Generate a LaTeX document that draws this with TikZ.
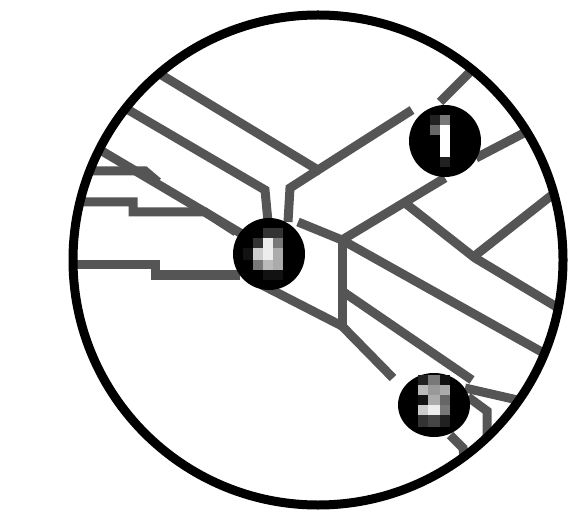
\documentclass[tikz,border=0pt]{standalone}
\definecolor{raygray}{RGB}{85,85,85}
\begin{document}
\begin{tikzpicture}[x=1pt,y=-1pt,
  ray/.style={draw=raygray, line width=9pt, line join=miter, line cap=butt},
  rim/.style={draw=black, line width=9pt},
  blob/.style={fill=black}]
\useasboundingbox (0,0) rectangle (588,518);
\fill[white] (0,0) rectangle (588,518);
\coordinate (O) at (318,260);
\coordinate (V1) at (318,170);
\coordinate (V2) at (342,240);
\coordinate (V3) at (342,326);
\coordinate (B1) at (445,141);
\coordinate (B2) at (269,254);
\coordinate (B3) at (434,405);
\begin{scope}
\clip (O) circle (245pt);
% upper-left rays
\draw[ray] (150,68) -- (V1) -- (412,110);
\draw[ray] (V1) -- (290,188) -- (288,222);
\draw[ray] (108,98) -- (265,190) -- (268,222);
\draw[ray] (90,144) -- (242,234);
\draw[ray] (80,171) -- (145,171) -- (158,182);
\draw[ray] (70,202) -- (133,202) -- (133,212) -- (205,212) -- (236,232);
\draw[ray] (62,265) -- (155,265) -- (155,275) -- (240,275);
% around blob 1
\draw[ray] (440,102) -- (482,60);
\draw[ray] (476,158) -- (545,122);
\draw[ray] (445,178) -- (V2);
\draw[ray] (298,222) -- (V2);
\draw[ray] (342,236) -- (V3);
\draw[ray] (V2) -- (565,365);
\draw[ray] (342,291) -- (472,380);
\draw[ray] (405,203) -- (475,258) -- (565,312);
\draw[ray] (472,258) -- (566,184);
% lower part
\draw[ray] (262,285) -- (V3);
\draw[ray] (V3) -- (393,378);
\draw[ray] (465,388) -- (535,404);
\draw[ray] (468,397) -- (487,411) -- (487,433) -- (505,433);
\draw[ray] (450,435) -- (463,448) -- (466,480);
\end{scope}
% blobs
\fill[blob] (B1) ellipse [x radius=36pt, y radius=36pt];
\fill[blob] (B2) ellipse [x radius=36pt, y radius=36pt];
\fill[blob] (B3) ellipse [x radius=36pt, y radius=32pt];
% blob 1 interior
\fill[black!87] (430,115) rectangle (440,125);
\fill[black!53] (440,115) rectangle (450,125);
\fill[black!60] (430,125) rectangle (440,135);
\fill[white] (440,125) rectangle (450,157);
\fill[black!87] (440,157) rectangle (450,167);
% blob 2 interior
\fill[black!80] (263,228) rectangle (283,238);
\fill[black!80] (253,238) rectangle (263,248);
\fill[black!7] (263,238) rectangle (273,260);
\fill[black!53] (273,238) rectangle (283,248);
\fill[black!93] (243,248) rectangle (253,260);
\fill[black!20] (253,248) rectangle (263,260);
\fill[black!33] (273,248) rectangle (283,270);
\fill[black!53] (253,260) rectangle (263,270);
\fill[black!27] (263,260) rectangle (273,270);
\fill[black!93] (263,270) rectangle (283,280);
% blob 3 interior
\fill[black!87] (418,375) rectangle (428,385);
\fill[black!53] (428,375) rectangle (440,385);
\fill[black!93] (440,375) rectangle (450,385);
\fill[black!27] (418,385) rectangle (428,395);
\fill[black!40] (428,385) rectangle (440,395);
\fill[black!33] (440,385) rectangle (450,395);
\fill[black!93] (418,395) rectangle (428,405);
\fill[black!33] (428,395) rectangle (440,405);
\fill[black!60] (440,395) rectangle (450,405);
\fill[black!20] (418,405) rectangle (428,415);
\fill[black!7] (428,405) rectangle (440,415);
\fill[black!53] (440,405) rectangle (450,415);
\fill[black!80] (418,415) rectangle (428,427);
\fill[black!73] (428,415) rectangle (440,427);
\fill[black!87] (440,415) rectangle (450,427);
% rim
\draw[rim] (O) circle (245pt);
\end{tikzpicture}
\end{document}
